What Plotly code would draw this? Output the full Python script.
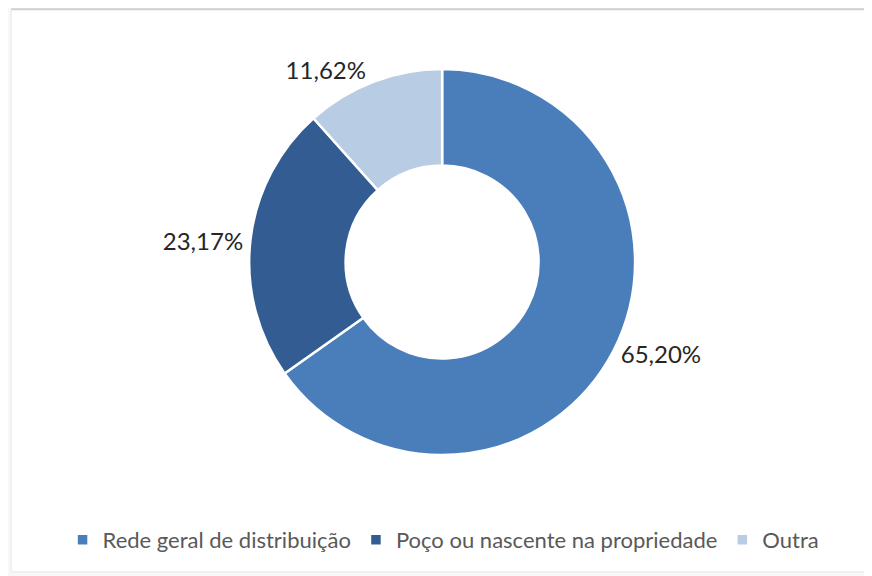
import plotly.graph_objects as go

categories = ["Rede geral de distribuição", "Poço ou nascente na propriedade", "Outra"]
values = [65.20, 23.17, 11.62]
colors = ["#4A7EBB", "#335D92", "#B8CCE4"]

fig = go.Figure(go.Pie(
    labels=categories,
    values=values,
    hole=0.5,
    sort=False,
    direction="clockwise",
    rotation=0,
    marker=dict(colors=colors, line=dict(color="white", width=2.5)),
    textposition="outside",
    texttemplate="%{value:.2f}%",
    textfont=dict(family="Lato, Open Sans, sans-serif", size=24, color="#262626"),
    hoverinfo="label+value",
    domain=dict(x=[0.0907, 0.905], y=[0.224, 0.894]),
))

fig.update_layout(
    width=872, height=576,
    separators=",.",
    margin=dict(l=0, r=0, t=0, b=0, autoexpand=False),
    paper_bgcolor="#f8f8f8",
    showlegend=True,
    legend=dict(
        orientation="h", x=0.4995, xanchor="center", y=0.0764, yanchor="middle",
        bgcolor="rgba(0,0,0,0)",
        font=dict(family="Lato, Open Sans, sans-serif", size=22, color="#595959"),
        traceorder="normal",
    ),
    shapes=[
        dict(type="rect", xref="paper", yref="paper", x0=0.0035, x1=1.1, y0=0.021, y1=0.998,
             fillcolor="white", line=dict(width=0), layer="below"),
        dict(type="line", xref="paper", yref="paper", x0=0.0035, x1=1.1, y0=0.998, y1=0.998,
             line=dict(color="#cfcfcf", width=2), layer="below"),
        dict(type="line", xref="paper", yref="paper", x0=0.0035, x1=0.0035, y0=0.021, y1=0.998,
             line=dict(color="#ededed", width=1.5), layer="below"),
        dict(type="line", xref="paper", yref="paper", x0=0.0035, x1=1.1, y0=0.021, y1=0.021,
             line=dict(color="#ededed", width=1.5), layer="below"),
    ],
)

fig.write_html("out.html")
